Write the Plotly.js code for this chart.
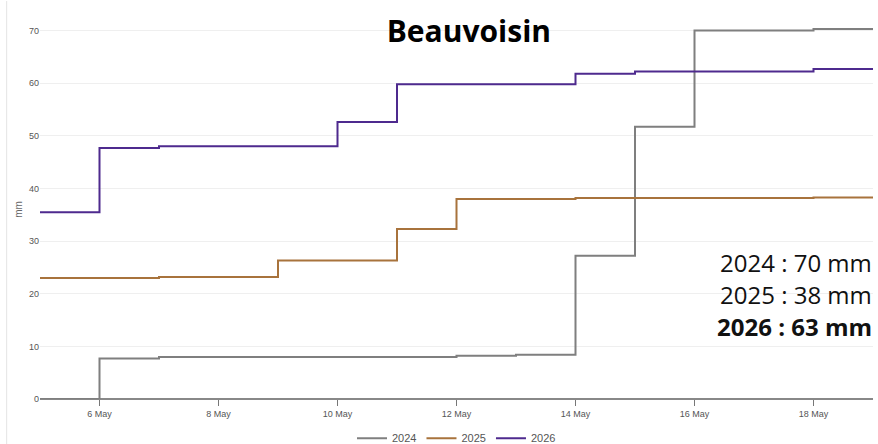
<!DOCTYPE html>
<html><head><meta charset="utf-8">
<script src="https://cdn.plot.ly/plotly-3.0.1.min.js"></script>
<style>html,body{margin:0;padding:0;background:#fff}#chart{width:878px;height:444px}</style>
</head><body><div id="chart"></div>
<script>
const dates = ["2026-05-05","2026-05-06","2026-05-07","2026-05-08","2026-05-09","2026-05-10","2026-05-11","2026-05-12","2026-05-13","2026-05-14","2026-05-15","2026-05-16","2026-05-17","2026-05-18","2026-05-19"];
const rain2024 = [0, 7.7, 8.0, 8.0, 8.0, 8.0, 8.0, 8.2, 8.4, 27.2, 51.7, 70.0, 70.0, 70.3, 70.3];
const rain2025 = [23.0, 23.0, 23.2, 23.2, 26.3, 26.3, 32.3, 38.0, 38.0, 38.2, 38.2, 38.2, 38.2, 38.3, 38.3];
const rain2026 = [35.5, 47.7, 48.0, 48.0, 48.0, 52.6, 59.8, 59.8, 59.8, 61.8, 62.2, 62.2, 62.2, 62.7, 62.7];
const seriesNames = ["2024", "2025", "2026"];
const colors = ["#7f7f7f", "#a8733c", "#4e2a8e"];
const totals = ["2024 : 70 mm", "2025 : 38 mm", "<b>2026 : 63 mm</b>"];
const tickVals = ["2026-05-06","2026-05-08","2026-05-10","2026-05-12","2026-05-14","2026-05-16","2026-05-18"];
const tickText = ["6 May","8 May","10 May","12 May","14 May","16 May","18 May"];

const data = [rain2024, rain2025, rain2026].map((ys, i) => ({
  x: dates, y: ys, name: seriesNames[i], type: "scatter", mode: "lines",
  line: {color: colors[i], width: 2, shape: "hv"}
}));

const layout = {
  width: 878, height: 444,
  margin: {l: 40, r: 5, t: 20, b: 45, autoexpand: false},
  paper_bgcolor: "#fff", plot_bgcolor: "#fff",
  font: {family: "Liberation Sans, Arial, sans-serif", color: "#555", size: 9},
  title: {text: "<b>Beauvoisin</b>", font: {family: "Open Sans, sans-serif", size: 30, color: "#000"}, x: 0.534, xanchor: "center", y: 0.93, yanchor: "middle"},
  xaxis: {
    type: "date", range: ["2026-05-05", "2026-05-19"],
    tickvals: tickVals, ticktext: tickText,
    showgrid: false, zeroline: false, showline: false,
    ticks: "outside", ticklen: 6, tickcolor: "#777", tickwidth: 1,
    tickfont: {size: 9, color: "#555"}
  },
  yaxis: {
    range: [0, 72], dtick: 10, showgrid: true, gridcolor: "#efefef", gridwidth: 1,
    zeroline: true, zerolinecolor: "#888", zerolinewidth: 1.5,
    ticks: "", tickfont: {size: 9, color: "#555"},
    title: {text: "mm", font: {size: 10, color: "#666"}, standoff: 4}
  },
  showlegend: true,
  legend: {orientation: "h", x: 0.5, xanchor: "center", y: -0.065, yanchor: "top",
    font: {size: 11, color: "#555"}, itemwidth: 30, tracegroupgap: 0},
  annotations: totals.map((t, i) => ({
    text: t, xref: "paper", yref: "paper", x: 1, xanchor: "right",
    y: (399 - 262 - i * 32) / 379, yanchor: "middle", showarrow: false, borderpad: 0,
    font: {family: "Open Sans, sans-serif", size: 24, color: "#111"}
  })),
  shapes: [{type: "line", xref: "paper", yref: "paper", x0: -0.04, x1: -0.04, y0: -0.12, y1: 1.05, line: {color: "#e4e4e4", width: 1}}]
};
Plotly.newPlot("chart", data, layout, {displayModeBar: false, staticPlot: true});
</script></body></html>
